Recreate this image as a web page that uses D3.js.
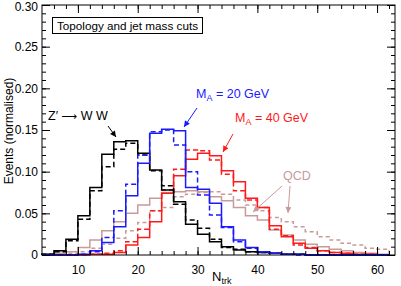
<!DOCTYPE html>
<html>
<head>
<meta charset="utf-8">
<script src="https://cdn.jsdelivr.net/npm/d3@7"></script>
<style>
  html, body { margin: 0; padding: 0; background: #fff; }
  svg { display: block; font-family: "Liberation Sans", Arial, sans-serif; }
  .tick text { font-size: 12px; fill: #000; }
  .tick line { stroke: #000; }
</style>
</head>
<body>
<svg id="chart" width="401" height="286"></svg>
<script>
// ── Data: normalised N_trk distributions, bins of width 2 from 4 to 62 ──
const binStart = 4;
const binWidth = 2;

const zwwSolid  = [0.001, 0.005, 0.019, 0.047, 0.081, 0.121, 0.136, 0.137, 0.122, 0.102, 0.078, 0.064, 0.037, 0.025, 0.016, 0.010, 0.006, 0.004, 0.003, 0.002, 0.001, 0.001, 0, 0, 0, 0, 0, 0, 0];
const zwwDashed = [0.001, 0.004, 0.017, 0.043, 0.077, 0.106, 0.127, 0.134, 0.120, 0.101, 0.083, 0.061, 0.042, 0.032, 0.019, 0.009, 0.007, 0.004, 0.003, 0.002, 0.001, 0.001, 0, 0, 0, 0, 0, 0, 0];
const a20Solid  = [0, 0, 0, 0.001, 0.005, 0.015, 0.034, 0.071, 0.110, 0.146, 0.151, 0.149, 0.081, 0.079, 0.062, 0.034, 0.018, 0.009, 0.004, 0.002, 0.001, 0.001, 0, 0, 0, 0, 0, 0, 0];
const a20Dashed = [0, 0, 0, 0.001, 0.004, 0.021, 0.053, 0.085, 0.120, 0.148, 0.150, 0.132, 0.100, 0.072, 0.048, 0.033, 0.016, 0.008, 0.004, 0.002, 0.001, 0, 0, 0, 0, 0, 0, 0, 0];
const a40Solid  = [0, 0, 0, 0, 0.001, 0.001, 0.003, 0.012, 0.021, 0.040, 0.074, 0.095, 0.115, 0.122, 0.119, 0.101, 0.088, 0.068, 0.057, 0.035, 0.022, 0.014, 0.008, 0.005, 0.003, 0.002, 0.001, 0.001, 0];
const a40Dashed = [0, 0, 0, 0, 0.001, 0.002, 0.005, 0.016, 0.031, 0.053, 0.078, 0.103, 0.126, 0.125, 0.114, 0.097, 0.077, 0.066, 0.057, 0.031, 0.023, 0.012, 0.009, 0.005, 0.003, 0.002, 0.001, 0.001, 0];
const qcdSolid  = [0.001, 0.002, 0.004, 0.009, 0.018, 0.029, 0.040, 0.050, 0.060, 0.068, 0.075, 0.076, 0.077, 0.076, 0.070, 0.065, 0.057, 0.047, 0.042, 0.030, 0.024, 0.018, 0.013, 0.010, 0.007, 0.005, 0.003, 0.002, 0.001];
const qcdDashed = [0, 0.001, 0.002, 0.004, 0.008, 0.013, 0.020, 0.029, 0.039, 0.053, 0.057, 0.070, 0.073, 0.075, 0.076, 0.073, 0.066, 0.060, 0.053, 0.045, 0.040, 0.034, 0.028, 0.022, 0.018, 0.014, 0.012, 0.008, 0.007];

const yTicks = [0, 0.05, 0.10, 0.15, 0.20, 0.25, 0.30];
const xTicks = [10, 20, 30, 40, 50, 60];

// Histogram series, drawn back to front
const SERIES = [
  { values: qcdSolid,  color: '#c89a9a', dash: null },
  { values: qcdDashed, color: '#c89a9a', dash: '4 3' },
  { values: a40Solid,  color: '#ff1a1a', dash: null },
  { values: a40Dashed, color: '#ff1a1a', dash: '5 3' },
  { values: zwwSolid,  color: '#000',    dash: null },
  { values: zwwDashed, color: '#000',    dash: '5 3' },
  { values: a20Solid,  color: '#1a1aff', dash: null },
  { values: a20Dashed, color: '#1a1aff', dash: '5 3' },
];

// ── Layout ───────────────────────────────────────────────────────────
const svg = d3.select('#chart');
const plot = { left: 42, top: 5, right: 395, bottom: 255 };

const x = d3.scaleLinear().domain([4, 63]).range([plot.left, plot.right]);
const y = d3.scaleLinear().domain([0, 0.30]).range([plot.bottom, plot.top]);

// Arrow heads, one per colour
const defs = svg.append('defs');
[['blk', '#000'], ['blu', '#1a1aff'], ['red', '#ff1a1a'], ['qcd', '#c89a9a']].forEach(([id, c]) => {
  defs.append('marker')
    .attr('id', 'arrow-' + id)
    .attr('viewBox', '0 0 10 10')
    .attr('refX', 10).attr('refY', 5)
    .attr('markerWidth', 7).attr('markerHeight', 6)
    .attr('markerUnits', 'userSpaceOnUse')
    .attr('orient', 'auto')
    .append('path')
      .attr('d', 'M0,0 L10,5 L0,10 Z')
      .attr('fill', c);
});

// ── Histograms ───────────────────────────────────────────────────────
function stepPath(values) {
  const pts = [[x(binStart), y(0)]];
  values.forEach((v, i) => {
    const lo = binStart + i * binWidth;
    pts.push([x(lo), y(v)], [x(lo + binWidth), y(v)]);
  });
  pts.push([x(binStart + values.length * binWidth), y(0)]);
  return d3.line()(pts);
}

svg.append('g')
  .selectAll('path')
  .data(SERIES)
  .join('path')
    .attr('d', d => stepPath(d.values))
    .attr('fill', 'none')
    .attr('stroke', d => d.color)
    .attr('stroke-width', 1.5)
    .attr('stroke-dasharray', d => d.dash);

// ── Axes (ticks point inward, mirrored on top/right) ────────────────
const minorY = d3.range(0, 0.3001, 0.01);
const minorX = d3.range(6, 63, 2);

function addAxis(axis, tx, ty) {
  const g = svg.append('g').attr('transform', `translate(${tx},${ty})`).call(axis);
  g.select('.domain').remove();
  return g;
}

addAxis(d3.axisLeft(y).tickValues(minorY).tickSize(-4).tickFormat(''), plot.left, 0);
addAxis(d3.axisRight(y).tickValues(minorY).tickSize(-4).tickFormat(''), plot.right, 0);
addAxis(d3.axisBottom(x).tickValues(minorX).tickSize(-4).tickFormat(''), 0, plot.bottom);
addAxis(d3.axisTop(x).tickValues(minorX).tickSize(-4).tickFormat(''), 0, plot.top);

const yAxis = addAxis(d3.axisLeft(y).tickValues(yTicks).tickSize(-8).tickPadding(4)
  .tickFormat(d => d === 0 ? '0' : d3.format('.2f')(d)), plot.left, 0);
// keep the top label inside the picture
yAxis.selectAll('.tick text').filter(d => d === 0.30).attr('dy', '0.45em');
addAxis(d3.axisRight(y).tickValues(yTicks).tickSize(-8).tickFormat(''), plot.right, 0);
addAxis(d3.axisBottom(x).tickValues(xTicks).tickSize(-8).tickPadding(10)
  .tickFormat(d3.format('d')), 0, plot.bottom);
addAxis(d3.axisTop(x).tickValues(xTicks).tickSize(-8).tickFormat(''), 0, plot.top);

// Frame
svg.append('rect')
  .attr('x', plot.left).attr('y', plot.top)
  .attr('width', plot.right - plot.left)
  .attr('height', plot.bottom - plot.top)
  .attr('fill', 'none')
  .attr('stroke', '#000')
  .attr('stroke-width', 1);

// ── Axis titles ──────────────────────────────────────────────────────
svg.append('text')
  .attr('transform', 'translate(13,131) rotate(-90)')
  .attr('text-anchor', 'middle')
  .style('font-size', '12px')
  .text('Events (normalised)');

const xt = svg.append('text')
  .attr('x', 212).attr('y', 281)
  .style('font-size', '13px');
xt.append('tspan').text('N');
xt.append('tspan').attr('dy', 3).style('font-size', '9px').text('trk');

// ── Cut label box ────────────────────────────────────────────────────
svg.append('rect')
  .attr('x', 52.5).attr('y', 17.5)
  .attr('width', 150).attr('height', 16)
  .attr('fill', '#fff')
  .attr('stroke', '#000');
svg.append('text')
  .attr('x', 57).attr('y', 30)
  .style('font-size', '11.7px')
  .text('Topology and jet mass cuts');

// ── Annotations ──────────────────────────────────────────────────────
function label(tx, ty, color, main, sub, rest) {
  const t = svg.append('text')
    .attr('x', tx).attr('y', ty)
    .attr('fill', color)
    .style('font-size', '12.5px');
  t.append('tspan').text(main);
  if (sub) {
    t.append('tspan').attr('dy', 3).style('font-size', '9px').text(sub);
    t.append('tspan').attr('dy', -3).text(rest);
  }
  return t;
}

function arrow(x1, y1, x2, y2, color, id) {
  svg.append('line')
    .attr('x1', x1).attr('y1', y1).attr('x2', x2).attr('y2', y2)
    .attr('stroke', color)
    .attr('stroke-width', 1)
    .attr('marker-end', `url(#arrow-${id})`);
}

const zw = svg.append('text')
  .attr('x', 48).attr('y', 120)
  .style('font-size', '12.5px');
zw.append('tspan').text('Z\u2032 ');
zw.append('tspan').style('font-family', '"DejaVu Sans"').style('font-size', '11px').text('\u27F6');
zw.append('tspan').text(' W W');
arrow(108, 126, 116, 137, '#000', 'blk');

label(196, 98, '#1a1aff', 'M', 'A', ' = 20 GeV');
arrow(197, 108, 184, 127, '#1a1aff', 'blu');

label(235, 122, '#ff1a1a', 'M', 'A', ' = 40 GeV');
arrow(233, 134, 223, 152, '#ff1a1a', 'red');

label(283, 180, '#c89a9a', 'QCD');
arrow(282, 186, 253, 212, '#c89a9a', 'qcd');
arrow(290, 186, 288, 213, '#c89a9a', 'qcd');
</script>
</body>
</html>
